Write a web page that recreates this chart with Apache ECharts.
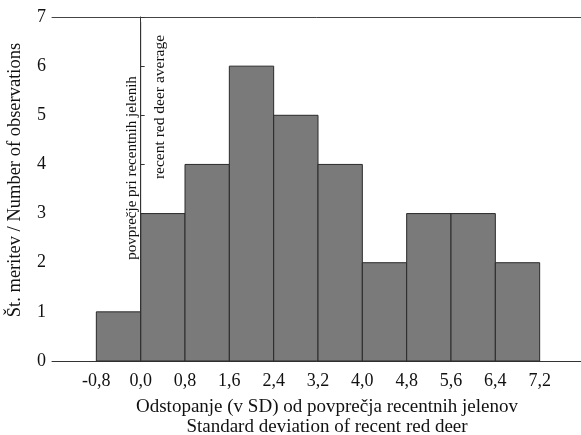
<!DOCTYPE html>
<html>
<head>
<meta charset="utf-8">
<script src="https://cdn.jsdelivr.net/npm/echarts@6/dist/echarts.min.js"></script>
<style>html,body{margin:0;padding:0;background:#fff;}#c{width:581px;height:435px;}</style>
</head>
<body>
<div id="c"></div>
<script>
// Data
var binEdges = [-0.8, 0.0, 0.8, 1.6, 2.4, 3.2, 4.0, 4.8, 5.6, 6.4, 7.2];
var counts = [1, 3, 4, 6, 5, 4, 2, 3, 3, 2];
var xTickValues = [-0.8, 0.0, 0.8, 1.6, 2.4, 3.2, 4.0, 4.8, 5.6, 6.4, 7.2];
var xTickLabels = ['-0,8', '0,0', '0,8', '1,6', '2,4', '3,2', '4,0', '4,8', '5,6', '6,4', '7,2'];
var averageLine = [[0, 0], [0, 6.9]];
var yTitle = 'Št. meritev / Number of observations';
var xTitle1 = 'Odstopanje (v SD) od povprečja recentnih jelenov';
var xTitle2 = 'Standard deviation of recent red deer';
var note1 = 'povprečje pri recentnih jelenih';
var note2 = 'recent red deer average';

var font = 'Liberation Serif';
var bins = counts.map(function (c, i) { return [binEdges[i], binEdges[i + 1], c]; });

var chart = echarts.init(document.getElementById('c'));
chart.setOption({
  animation: false,
  backgroundColor: '#fff',
  grid: { left: 52, top: 17, width: 532, height: 344, show: false,
          containLabel: false, outerBoundsMode: 'none' },
  xAxis: [{
    type: 'value', min: -1.6, max: 8.0, interval: 0.8,
    axisLine: { show: true, lineStyle: { color: '#333', width: 1 } },
    axisTick: { show: false },
    splitLine: { show: false },
    axisLabel: {
      margin: 11, fontFamily: font, fontSize: 18, color: '#111',
      formatter: function (v) {
        for (var i = 0; i < xTickValues.length; i++) {
          if (Math.abs(v - xTickValues[i]) < 1e-6) return xTickLabels[i];
        }
        return '';
      }
    }
  }, {
    type: 'value', position: 'top', min: -1.6, max: 8.0,
    axisLine: { show: true, lineStyle: { color: '#444', width: 1 } },
    axisTick: { show: false }, axisLabel: { show: false }, splitLine: { show: false }
  }],
  yAxis: {
    type: 'value', min: 0, max: 7, interval: 1,
    axisLine: { show: true, lineStyle: { color: '#333', width: 1 } },
    axisTick: { show: true, inside: true, length: 4, lineStyle: { color: '#333' } },
    splitLine: { show: false },
    axisLabel: { margin: 6, fontFamily: font, fontSize: 18, color: '#111' }
  },
  series: [
    {
      type: 'custom',
      data: bins,
      renderItem: function (params, api) {
        var p0 = api.coord([api.value(0), api.value(2)]);
        var p1 = api.coord([api.value(1), 0]);
        return {
          type: 'rect',
          shape: { x: p0[0], y: p0[1], width: p1[0] - p0[0], height: p1[1] - p0[1] },
          style: { fill: '#7a7a7a', stroke: '#2a2a2a', lineWidth: 1 }
        };
      },
      encode: { x: [0, 1], y: 2 }
    },
    {
      type: 'line',
      data: averageLine,
      symbol: 'none',
      lineStyle: { color: '#333', width: 1 },
      z: 5
    }
  ],
  graphic: [
    { type: 'text', x: 15, y: 180, rotation: Math.PI / 2,
      style: { text: yTitle, fontFamily: font, fontSize: 18.5, fill: '#111', textAlign: 'center', textVerticalAlign: 'middle' } },
    { type: 'text', x: 327, y: 407,
      style: { text: xTitle1, fontFamily: font, fontSize: 19, fill: '#111', textAlign: 'center', textVerticalAlign: 'middle' } },
    { type: 'text', x: 327, y: 427,
      style: { text: xTitle2, fontFamily: font, fontSize: 19, fill: '#111', textAlign: 'center', textVerticalAlign: 'middle' } },
    { type: 'text', x: 132, y: 168, rotation: Math.PI / 2,
      style: { text: note1, fontFamily: font, fontSize: 15, fill: '#111', textAlign: 'center', textVerticalAlign: 'middle' } },
    { type: 'text', x: 160, y: 107, rotation: Math.PI / 2,
      style: { text: note2, fontFamily: font, fontSize: 15.5, fill: '#111', textAlign: 'center', textVerticalAlign: 'middle' } }
  ]
});
</script>
</body>
</html>
